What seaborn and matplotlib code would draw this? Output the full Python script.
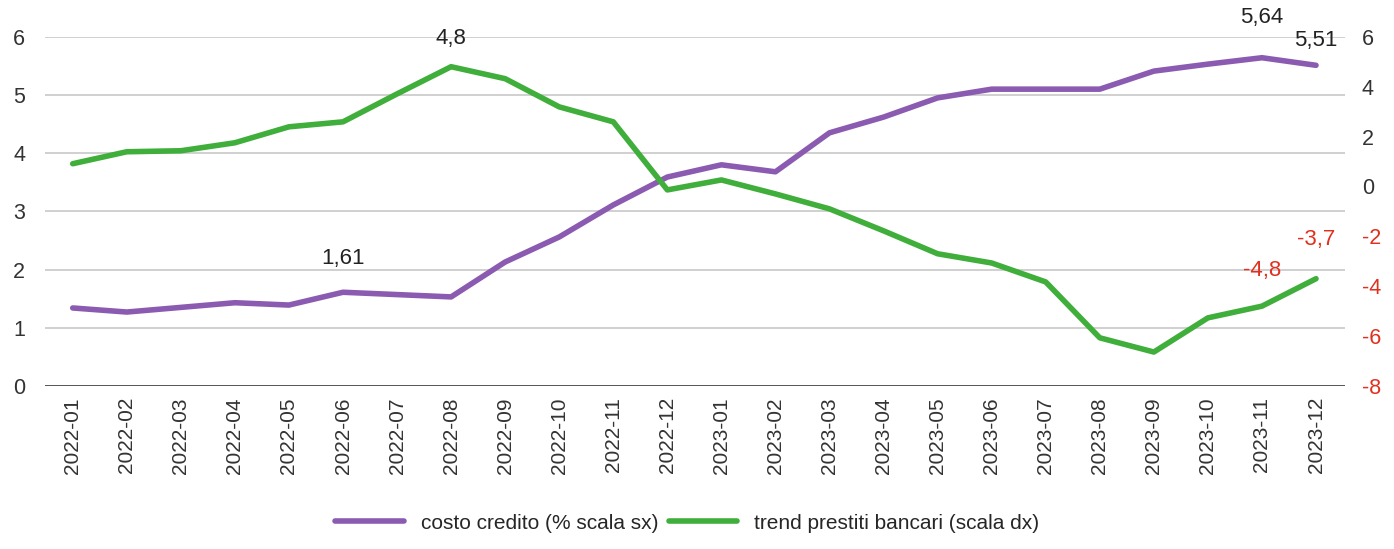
import pandas as pd
import seaborn as sns
import matplotlib.pyplot as plt
from matplotlib.lines import Line2D

# monthly data
months = ['2022-01', '2022-02', '2022-03', '2022-04', '2022-05', '2022-06',
          '2022-07', '2022-08', '2022-09', '2022-10', '2022-11', '2022-12',
          '2023-01', '2023-02', '2023-03', '2023-04', '2023-05', '2023-06',
          '2023-07', '2023-08', '2023-09', '2023-10', '2023-11', '2023-12']
costo_credito = [1.34, 1.27, 1.35, 1.43, 1.39, 1.61, 1.57, 1.53, 2.13, 2.56,
                 3.11, 3.59, 3.80, 3.68, 4.35, 4.62, 4.95, 5.10, 5.10, 5.10,
                 5.41, 5.53, 5.64, 5.51]
trend_prestiti = [0.91, 1.39, 1.43, 1.75, 2.39, 2.59, 3.71, 4.8, 4.32, 3.19,
                  2.59, -0.14, 0.26, -0.30, -0.90, -1.78, -2.70, -3.07, -3.83,
                  -6.07, -6.64, -5.27, -4.8, -3.7]

left_ticks = [0, 1, 2, 3, 4, 5, 6]
right_ticks = [6, 4, 2, 0, -2, -4, -6, -8]

# labels shown on the chart: (index, text, pixels above the point)
cost_labels = [(5, '1,61', 34), (22, '5,64', 40), (23, '5,51', 25)]
trend_labels = [(7, '4,8', 28, '#222222'), (22, '-4,8', 36, '#e0301e'),
                (23, '-3,7', 39, '#e0301e')]

df = pd.DataFrame({'mese': months, 'pos': range(len(months)),
                   'costo': costo_credito, 'trend': trend_prestiti})

purple = '#8a5bb0'
green = '#3fae3a'
red = '#e0301e'

sns.set_style('white')
plt.rcParams['font.family'] = ['Liberation Sans', 'DejaVu Sans']

fig = plt.figure(figsize=(13.94, 5.49), dpi=100)
ax = fig.add_axes([0.032, 0.297, 0.933, 0.636])
ax2 = ax.twinx()

sns.lineplot(data=df, x='pos', y='costo', ax=ax, color=purple, linewidth=4)
sns.lineplot(data=df, x='pos', y='trend', ax=ax2, color=green, linewidth=4)

ax.set_xlim(-0.52, 23.54)
ax.set_ylim(0, 6)
ax2.set_ylim(-8, 6)

ax.set_yticks(left_ticks)
ax.set_yticklabels([str(t) for t in left_ticks], fontsize=15.5, color='#333333')
for t in left_ticks:
    ax.axhline(t, color='#555555' if t == 0 else '#c8c8c8', linewidth=1.4 if t == 0 else 1.2, zorder=0)

ax2.set_yticks(right_ticks)
ax2.set_yticklabels([str(t) for t in right_ticks], fontsize=15.5)
for lab, t in zip(ax2.get_yticklabels(), right_ticks):
    lab.set_color(red if t < 0 else '#333333')

ax.set_xticks(df['pos'])
ax.set_xticklabels(months, rotation=90, fontsize=15, color='#333333')
ax.set_xlabel('')
ax.set_ylabel('')
ax2.set_ylabel('')
ax.tick_params(axis='x', length=0, pad=8)
ax.tick_params(axis='y', length=0, pad=14)
ax2.tick_params(axis='y', length=0, pad=12)

for a in (ax, ax2):
    for s in a.spines.values():
        s.set_visible(False)

for i, txt, off in cost_labels:
    ax.annotate(txt, (i, costo_credito[i]), xytext=(0, off * 0.72), textcoords='offset points',
                ha='center', va='center', fontsize=16, color='#222222')
for i, txt, off, c in trend_labels:
    ax2.annotate(txt, (i, trend_prestiti[i]), xytext=(0, off * 0.72), textcoords='offset points',
                 ha='center', va='center', fontsize=16, color=c)

handles = [Line2D([], [], color=purple, linewidth=4),
           Line2D([], [], color=green, linewidth=4)]
fig.legend(handles, ['costo credito (% scala sx)', 'trend prestiti bancari (scala dx)'],
           loc='center', bbox_to_anchor=(0.493, 0.047), ncol=2, frameon=False,
           fontsize=15, handlelength=3.3, columnspacing=0.5, handletextpad=0.8)

fig.savefig('out.png', dpi=100)
